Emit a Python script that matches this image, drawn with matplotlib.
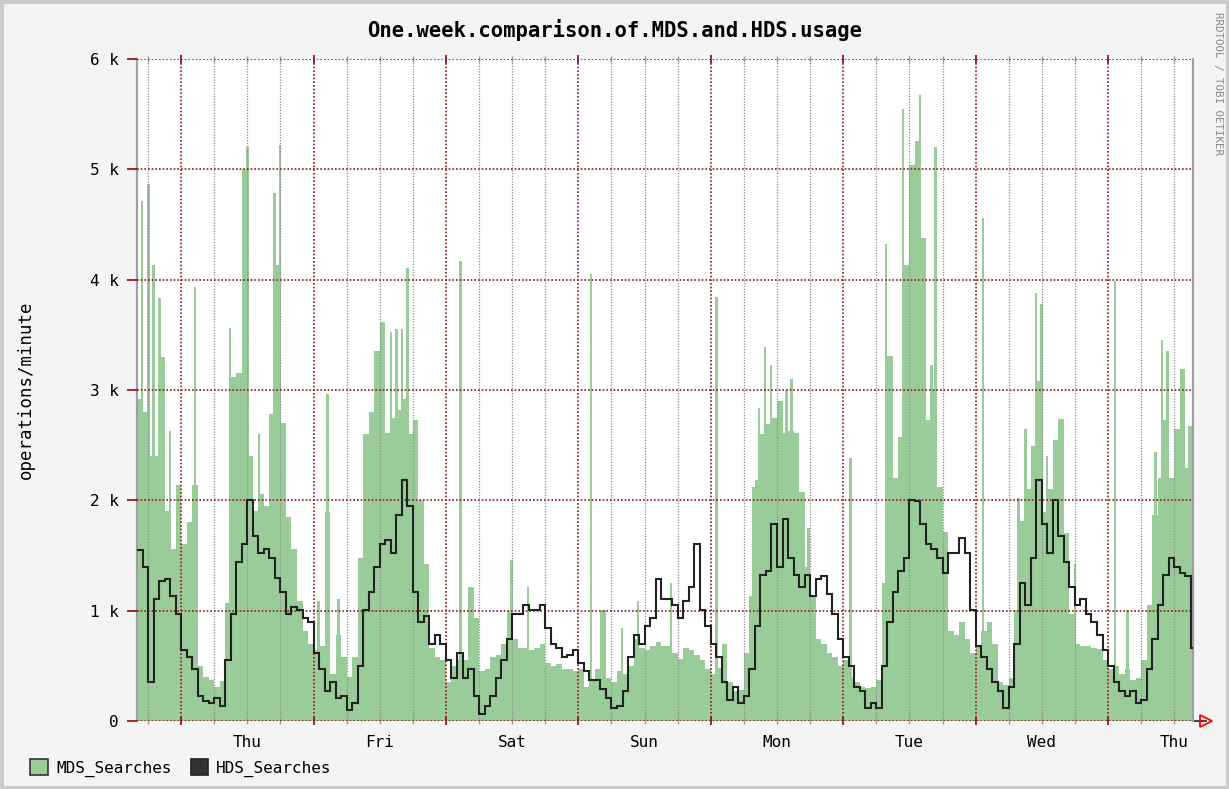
import numpy as np
import matplotlib.pyplot as plt
from matplotlib.patches import Patch, Rectangle
from matplotlib.ticker import FixedLocator, FixedFormatter

# one value per hour, hours counted from Thursday 00:00 (first bin starts at -8)
start_hour = -8
mds_k = [
    2.92, 2.8, 2.4, 2.4, 3.3, 1.9, 1.56, 2.14,
    1.6, 1.8, 2.14, 0.5, 0.4, 0.37, 0.31, 0.36,
    1.07, 3.12, 3.15, 5.0, 2.4, 1.9, 2.06, 1.95,
    2.78, 4.13, 2.7, 1.85, 1.56, 1.09, 0.82, 0.7,
    0.64, 0.68, 1.89, 0.43, 0.78, 0.58, 0.4, 0.58,
    1.48, 2.6, 2.8, 3.35, 3.62, 2.61, 2.75, 2.82,
    2.92, 2.6, 2.73, 2.0, 1.42, 0.66, 0.58, 0.55,
    0.35, 0.5, 0.55, 0.55, 1.21, 0.93, 0.45, 0.47,
    0.58, 0.6, 0.7, 1.0, 0.74, 0.66, 0.66, 0.64,
    0.66, 0.7, 0.53, 0.5, 0.52, 0.47, 0.47, 0.45,
    0.47, 0.31, 0.37, 0.47, 1.01, 0.39, 0.35, 0.45,
    0.43, 0.5, 0.74, 0.66, 0.64, 0.68, 0.72, 0.68,
    0.68, 0.62, 0.56, 0.66, 0.64, 0.6, 0.55, 0.47,
    0.43, 0.48, 0.7, 0.35, 0.27, 0.28, 0.62, 1.13,
    2.18, 2.6, 2.69, 2.75, 2.9, 2.61, 2.63, 2.61,
    2.08, 1.4, 1.13, 0.74, 0.7, 0.62, 0.58, 0.5,
    0.55, 0.39, 0.35, 0.31, 0.3, 0.31, 0.37, 1.25,
    3.31, 2.2, 2.57, 4.13, 5.04, 5.26, 4.38, 2.73,
    3.0, 2.12, 1.71, 0.82, 0.78, 0.9, 0.74, 0.62,
    0.68, 0.82, 0.9, 0.7, 0.35, 0.33, 0.39, 1.01,
    1.81, 2.1, 2.49, 3.08, 1.89, 2.1, 2.55, 2.74,
    1.7, 0.97, 0.7, 0.68, 0.68, 0.66, 0.65, 0.55,
    0.47, 0.5, 0.43, 0.47, 0.37, 0.39, 0.55, 1.05,
    1.87, 2.2, 2.73, 2.2, 2.65, 3.19, 2.29, 2.67,
]
hds_k = [
    1.55, 1.4, 0.35, 1.11, 1.27, 1.29, 1.13, 0.97,
    0.64, 0.58, 0.47, 0.23, 0.18, 0.16, 0.21, 0.14,
    0.55, 0.97, 1.44, 1.6, 2.0, 1.68, 1.52, 1.56,
    1.48, 1.3, 1.17, 0.97, 1.03, 1.01, 0.93, 0.9,
    0.62, 0.47, 0.27, 0.35, 0.21, 0.23, 0.1, 0.16,
    0.5, 1.01, 1.17, 1.4, 1.6, 1.64, 1.52, 1.87,
    2.18, 1.95, 1.17, 0.9, 0.95, 0.7, 0.78, 0.7,
    0.55, 0.39, 0.62, 0.39, 0.47, 0.23, 0.06, 0.14,
    0.23, 0.39, 0.55, 0.74, 0.97, 0.97, 1.05, 1.01,
    1.01, 1.05, 0.84, 0.7, 0.66, 0.58, 0.6, 0.64,
    0.53, 0.45, 0.37, 0.37, 0.29, 0.21, 0.12, 0.14,
    0.27, 0.58, 0.78, 0.7, 0.86, 0.93, 1.29, 1.11,
    1.11, 1.05, 0.93, 1.09, 1.21, 1.6, 1.01, 0.86,
    0.7, 0.58, 0.35, 0.19, 0.31, 0.16, 0.23, 0.47,
    0.86, 1.32, 1.36, 1.79, 1.4, 1.83, 1.48, 1.32,
    1.21, 1.32, 1.13, 1.29, 1.31, 1.15, 0.97, 0.74,
    0.58, 0.5, 0.31, 0.27, 0.12, 0.16, 0.12, 0.5,
    0.9, 1.17, 1.36, 1.48, 2.0, 1.99, 1.79, 1.6,
    1.56, 1.48, 1.34, 1.52, 1.52, 1.66, 1.52, 1.01,
    0.68, 0.58, 0.47, 0.35, 0.27, 0.12, 0.31, 0.7,
    1.25, 1.05, 1.48, 2.18, 1.79, 1.52, 2.0, 1.68,
    1.44, 1.21, 1.05, 1.11, 0.97, 0.9, 0.78, 0.64,
    0.5, 0.35, 0.27, 0.23, 0.27, 0.16, 0.19, 0.47,
    0.74, 1.05, 1.32, 1.48, 1.4, 1.34, 1.31, 0.66,
]
# short bursts of MDS searches (hour, k ops/min)
spike_hours = [-7.1, -5.9, -5.0, -3.9, -2.0, 2.5, 8.9, 12.0, 14.1, 16.9, 17.9,
               24.9, 26.5, 28.5, 38.0, 39.0, 40.0, 41.0, 50.6,
               59.9, 62.9, 74.3, 79.9, 82.8,
               88.8, 97.0, 103.7, 104.7, 105.8, 106.9, 109.7, 110.6, 113.7,
               121.3, 127.8, 130.8, 133.9, 136.0, 136.7, 145.3, 151.8,
               153.0, 154.9, 155.9, 156.9, 162.0, 169.3, 171.5, 176.6, 177.8, 178.8, 182.8]
spike_values = [4.71, 4.87, 4.13, 3.83, 2.63, 3.93, 3.56, 5.2, 2.6, 4.79, 5.22,
                1.09, 2.96, 1.11, 3.53, 3.55, 3.55, 4.11, 4.17,
                1.46, 1.21, 4.05, 0.84, 1.09,
                1.25, 3.84, 2.12, 2.84, 3.39, 3.23, 3.0, 3.1, 1.75,
                2.38, 4.32, 5.55, 5.67, 3.23, 5.2, 4.56, 2.02,
                2.65, 3.88, 3.78, 2.4, 1.42, 3.99, 1.01, 2.44, 3.45, 3.35, 2.67]
day_names = ['Thu', 'Fri', 'Sat', 'Sun', 'Mon', 'Tue', 'Wed', 'Thu']
y_ticks = [0, 1, 2, 3, 4, 5, 6]
y_labels = ['0', '1 k', '2 k', '3 k', '4 k', '5 k', '6 k']
end_hour = 183.4

green = '#99cc99'
red = '#951818'
mono = 'DejaVu Sans Mono'

fig = plt.figure(figsize=(12.29, 7.89), dpi=100, facecolor='#f4f4f4')
fig.patches.append(Rectangle((0, 0), 1, 1, transform=fig.transFigure, fill=False,
                             edgecolor='#cccccc', lw=5))
ax = fig.add_axes([137 / 1229, 1 - 721 / 789, 1056 / 1229, 662 / 789])
ax.set_facecolor('white')

edges = np.arange(start_hour, start_hour + len(mds_k) + 1)
ax.stairs(mds_k, edges, fill=True, color=green, baseline=0, zorder=1)
ax.bar(spike_hours, spike_values, width=0.45, color=green, zorder=1)
ax.stairs(hds_k, edges, color='#222222', lw=1.5, baseline=None, zorder=3)

ax.set_xlim(start_hour, end_hour)
ax.set_ylim(0, 6)

# midnight = major (red), every 6 hours = minor (grey), day name at noon
ax.xaxis.set_major_locator(FixedLocator(list(range(0, int(end_hour) + 1, 24))))
ax.xaxis.set_major_formatter(FixedFormatter([]))
minor = [h for h in range(-6, int(end_hour) + 1, 6) if h % 24]
minor_lab = [day_names[(h - 12) // 24] if h % 24 == 12 else '' for h in minor]
ax.xaxis.set_minor_locator(FixedLocator(minor))
ax.xaxis.set_minor_formatter(FixedFormatter(minor_lab))
ax.set_yticks(y_ticks)
ax.set_yticklabels(y_labels)

ax.set_axisbelow(False)
ax.grid(which='major', axis='both', color=red, ls=(0, (1, 1.2)), lw=1.2)
ax.grid(which='minor', axis='x', color='#8f8f8f', ls=(0, (1, 1.2)), lw=0.9)

ax.tick_params(axis='y', which='major', color=red, length=7, width=1.3, pad=6,
               labelsize=11.5, labelfontfamily=mono)
ax.tick_params(axis='x', which='major', color=red, length=6, width=1.3,
               direction='inout', top=True)
ax.tick_params(axis='x', which='minor', color='#9a9a9a', length=4, width=1,
               direction='inout', top=True, pad=8, labelsize=11.5, labelfontfamily=mono)

for s in ['top', 'bottom']:
    ax.spines[s].set_visible(False)
for s in ['left', 'right']:
    ax.spines[s].set_color('#a0a0a0')
    ax.spines[s].set_linewidth(1.6)

# arrow at the end of the time axis
ax.plot([1.0, 1.012], [0, 0], color='#333333', lw=1.3, transform=ax.transAxes, clip_on=False)
ax.plot([1.012], [0], marker='>', ms=8, mfc='none', mec='red', mew=1.3,
        transform=ax.transAxes, clip_on=False)

ax.set_ylabel('operations/minute', fontsize=12.5, family=mono)
ax.yaxis.set_label_coords(-0.097, 0.5)

fig.text(0.5, 1 - 30 / 789, 'One.week.comparison.of.MDS.and.HDS.usage', ha='center',
         va='center', fontsize=14.8, fontweight='bold', family=mono)
fig.text(1218 / 1229, 1 - 12 / 789, 'RRDTOOL / TOBI OETIKER', rotation=-90, ha='center',
         va='top', fontsize=7.8, family=mono, color='#8a8a8a')

handles = [Patch(facecolor=green, edgecolor='#333333', lw=1.2, label='MDS_Searches'),
           Patch(facecolor='#333333', edgecolor='#222222', lw=1.2, label='HDS_Searches')]
fig.legend(handles=handles, loc='center left', bbox_to_anchor=(0.013, 1 - 768 / 789),
           ncol=2, frameon=False, handlelength=1.1, handleheight=1.1, handletextpad=0.5,
           columnspacing=1.2, prop={'family': mono, 'size': 11.5})

fig.savefig('out.png', dpi=100, facecolor=fig.get_facecolor())
